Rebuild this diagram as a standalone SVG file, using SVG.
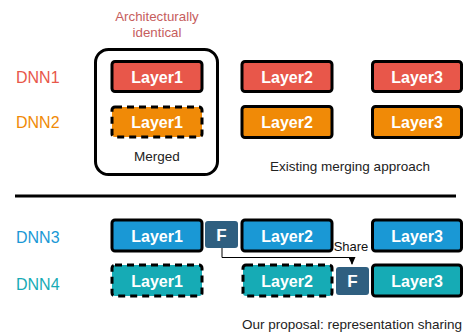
<svg xmlns="http://www.w3.org/2000/svg" width="463" height="333" viewBox="0 0 463 333">
<defs>
<style>
text{font-family:"Liberation Sans",Arial,sans-serif;}
.lbl{font-size:16px;text-anchor:start;dominant-baseline:central;}
.lay{font-size:16px;font-weight:bold;fill:#fff;text-anchor:middle;dominant-baseline:central;}
.cap{font-size:13.5px;fill:#222;text-anchor:middle;}
.box{stroke:#000;stroke-width:3;}
.dash{stroke:#000;stroke-width:3;stroke-dasharray:7,5;}
.red{fill:#E8574A;}
.org{fill:#F08A07;}
.blu{fill:#1A98D5;}
.tea{fill:#16ABB5;}
.f{fill:#2F5F80;}
</style>
<marker id="ah" markerWidth="8" markerHeight="7" refX="7" refY="3.5" orient="auto" markerUnits="userSpaceOnUse">
<path d="M0,0 L8,3.5 L0,7 Z" fill="#000"/>
</marker>
</defs>
<rect width="463" height="333" fill="#fff"/>

<g id="title-top">
<text x="157" y="21" style="font-size:13.3px;fill:#C65D5D;text-anchor:middle">Architecturally</text>
<text x="157" y="37" style="font-size:13.3px;fill:#C65D5D;text-anchor:middle">identical</text>
</g>

<g id="merged">
<rect x="95.5" y="49.5" width="122" height="125" rx="13" fill="none" stroke="#000" stroke-width="3"/>
<text x="157" y="161" class="cap">Merged</text>
</g>

<g id="labels">
<text x="16" y="77" class="lbl" fill="#E8574A">DNN1</text>
<text x="16" y="122" class="lbl" fill="#F08A07">DNN2</text>
<text x="16" y="237" class="lbl" fill="#1A98D5">DNN3</text>
<text x="16" y="284" class="lbl" fill="#16ABB5">DNN4</text>
</g>

<g id="dnn1-layer1"><rect x="112" y="61.5" width="90" height="30" rx="3" class="red box"/><text x="157" y="77" class="lay">Layer1</text></g>
<g id="dnn1-layer2"><rect x="242" y="61.5" width="90" height="30" rx="3" class="red box"/><text x="287" y="77" class="lay">Layer2</text></g>
<g id="dnn1-layer3"><rect x="372.5" y="61.5" width="89" height="30" rx="3" class="red box"/><text x="417" y="77" class="lay">Layer3</text></g>

<g id="dnn2-layer1"><rect x="112" y="107" width="90" height="30" rx="3" class="org dash"/><text x="157" y="122" class="lay">Layer1</text></g>
<g id="dnn2-layer2"><rect x="242" y="106.5" width="90" height="31" rx="3" class="org box"/><text x="287" y="122" class="lay">Layer2</text></g>
<g id="dnn2-layer3"><rect x="372.5" y="106.5" width="89" height="31" rx="3" class="org box"/><text x="417" y="122" class="lay">Layer3</text></g>

<text x="350" y="171" class="cap">Existing merging approach</text>

<line x1="15" y1="196" x2="456" y2="196" stroke="#000" stroke-width="3"/>

<g id="dnn3-layer1"><rect x="112" y="220" width="90" height="31" rx="3" class="blu box"/><text x="157" y="236" class="lay">Layer1</text></g>
<g id="dnn3-f"><rect x="205" y="221" width="33" height="27" rx="3" class="f"/><text x="221.5" y="235" class="lay" style="font-size:17px">F</text></g>
<g id="dnn3-layer2"><rect x="242" y="220" width="90" height="31" rx="3" class="blu box"/><text x="287" y="236" class="lay">Layer2</text></g>
<g id="dnn3-layer3"><rect x="372.5" y="220" width="89" height="31" rx="3" class="blu box"/><text x="417" y="236" class="lay">Layer3</text></g>

<g id="dnn4-layer1"><rect x="112" y="265" width="90" height="31" rx="3" class="tea dash"/><text x="157" y="281" class="lay">Layer1</text></g>
<g id="dnn4-layer2"><rect x="243" y="265" width="89" height="31" rx="3" class="tea dash"/><text x="287" y="281" class="lay">Layer2</text></g>
<g id="dnn4-f"><rect x="336" y="267" width="33" height="28" rx="3" class="f"/><text x="352.5" y="281" class="lay" style="font-size:17px">F</text></g>
<g id="dnn4-layer3"><rect x="372.5" y="265" width="89" height="31" rx="3" class="tea box"/><text x="417" y="281" class="lay">Layer3</text></g>

<g id="connectors">
<polyline points="222,248 222,257.5 352,257.5 352,264" fill="none" stroke="#000" stroke-width="1" marker-end="url(#ah)"/>
<text x="351" y="251" style="font-size:13px;fill:#111;text-anchor:middle">Share</text>
</g>

<text x="352" y="329" class="cap">Our proposal: representation sharing</text>
</svg>
